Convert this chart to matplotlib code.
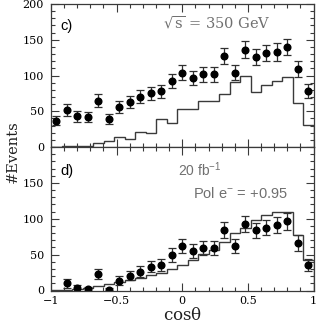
import numpy as np
import matplotlib
matplotlib.use("Agg")
import matplotlib.pyplot as plt
from matplotlib.ticker import MultipleLocator

plt.rcParams['mathtext.default'] = 'regular'
plt.rcParams['mathtext.fontset'] = 'dejavuserif'

# ---- data (25 bins in cos(theta) from -1 to 1) ----
bin_lo, bin_hi, n_bins = -1.0, 1.0, 25

# panel c) sqrt(s)=350 GeV
c_points = [37, 52, 43, 42, 65, 39, 56, 63, 70, 75, 78, 92, 104, 97, 102,
            102, 127, 104, 136, 126, 131, 133, 140, 109, 78]
c_errors = [6.3, 8.6, 7.5, 7.5, 8.9, 6.8, 8.2, 8.9, 9.1, 8.9, 9.1, 10, 10, 9.6,
            10.5, 10.5, 11.6, 10, 11.6, 11.2, 11.2, 12.6, 11.4, 10.7, 9.8]
c_hist = [0, 1.5, 1.5, 2, 5, 8.3, 14, 11, 20.7, 19, 39, 33.5, 52.7, 52.7,
          64.5, 64.5, 74, 91, 100, 76.5, 87, 92, 97.5, 61.5, 30.3]

# panel d) 20 fb^-1, Pol e- = +0.95
d_points = [np.nan, 10, 3, 2, 22.6, 1, 13.7, 20.6, 26.2, 32.8, 35.5, 49.5, 62,
            55, 59.5, 59.2, 84.3, 61.5, 92.7, 83.7, 87.8, 91.3, 96.7, 66.4, 35.1]
d_errors = [np.nan, 6, 4, 3, 7, 2, 6.7, 6.5, 7.5, 7.7, 8.5, 9.3, 9.8, 9.8, 9.8,
            9.8, 11.4, 9.8, 10.5, 10.5, 10.9, 11.4, 12, 10.9, 8.6]
d_hist = [0.5, 1, 2, 4, 6, 8.6, 11.2, 14, 17.4, 21, 24.2, 30.2, 36, 42.5,
          50.7, 56.4, 67, 80, 87, 98, 105, 110, 109, 78, 42]

x_ticks = [-1, -0.5, 0, 0.5, 1]
x_ticklabels = ['\u22121', '\u22120.5', '0', '0.5', '1']
y_ticks_c = [0, 50, 100, 150, 200]
y_ticks_d = [0, 50, 100, 150]

edges = np.linspace(bin_lo, bin_hi, n_bins + 1)
centers = 0.5 * (edges[:-1] + edges[1:])

W, H = 316, 324
fig = plt.figure(figsize=(W / 100, H / 100), dpi=100)
left, right = 51 / W, 313.5 / W
y_top, y_mid, y_bot = 4 / H, 147 / H, 290.5 / H
ax_c = fig.add_axes([left, 1 - y_mid, right - left, y_mid - y_top])
ax_d = fig.add_axes([left, 1 - y_bot, right - left, y_bot - y_mid])

serif = 'DejaVu Serif'
sans = 'Liberation Sans'
line_col = '#3a3a3a'
txt_col = '#707070'

for ax, pts, errs, hist, yt in [(ax_c, c_points, c_errors, c_hist, y_ticks_c),
                                (ax_d, d_points, d_errors, d_hist, y_ticks_d)]:
    ax.stairs(hist, edges, color=line_col, lw=1.0)
    ax.errorbar(centers, pts, yerr=errs, fmt='o', color='black', ms=4.8,
                ecolor='#303030', elinewidth=0.9, capsize=2.6, capthick=0.9)
    ax.set_xlim(bin_lo, bin_hi)
    ax.set_ylim(0, 200)
    ax.set_yticks(yt)
    ax.set_yticklabels([str(v) for v in yt], fontfamily=serif, fontsize=8)
    ax.yaxis.set_minor_locator(MultipleLocator(10))
    ax.set_xticks(x_ticks)
    ax.xaxis.set_minor_locator(MultipleLocator(0.1))
    ax.tick_params(which='both', direction='in', top=True, right=True,
                   color=line_col, width=0.8)
    ax.tick_params(which='major', length=6, pad=5)
    ax.tick_params(which='minor', length=3)
    for s in ax.spines.values():
        s.set_color(line_col)
        s.set_linewidth(0.9)

ax_c.set_xticklabels([])
ax_d.set_xticklabels(x_ticklabels, fontfamily=serif, fontsize=8)
ax_d.tick_params(axis='x', which='major', pad=4)

ax_c.text(-0.93, 163, 'c)', fontsize=10.5, fontfamily=sans,
          color='black', va='baseline')
ax_c.text(-0.145, 174, r'$\sqrt{s}$ = 350 GeV', fontsize=10.5, fontfamily=serif,
          color=txt_col, va='center')
ax_d.text(-0.93, 166, 'd)', fontsize=10.5, fontfamily=sans,
          color='black', va='center')
ax_d.text(-0.03, 168, r'20 fb$^{-1}$', fontsize=10, fontfamily=sans,
          color=txt_col, va='center')
ax_d.text(0.085, 135, r'Pol e$^{-}$ = +0.95', fontsize=10.5,
          fontfamily=sans, color=txt_col, va='center')

fig.text(13 / W, 1 - 152 / H, '#Events', rotation=90, fontfamily=serif,
         fontsize=10.5, ha='center', va='center', color='#202020')
fig.text(183 / W, 1 - 315 / H, r'cos$\theta$', fontfamily=serif, fontsize=12,
         ha='center', va='center', color='#202020')

fig.savefig('out.png', dpi=100)
